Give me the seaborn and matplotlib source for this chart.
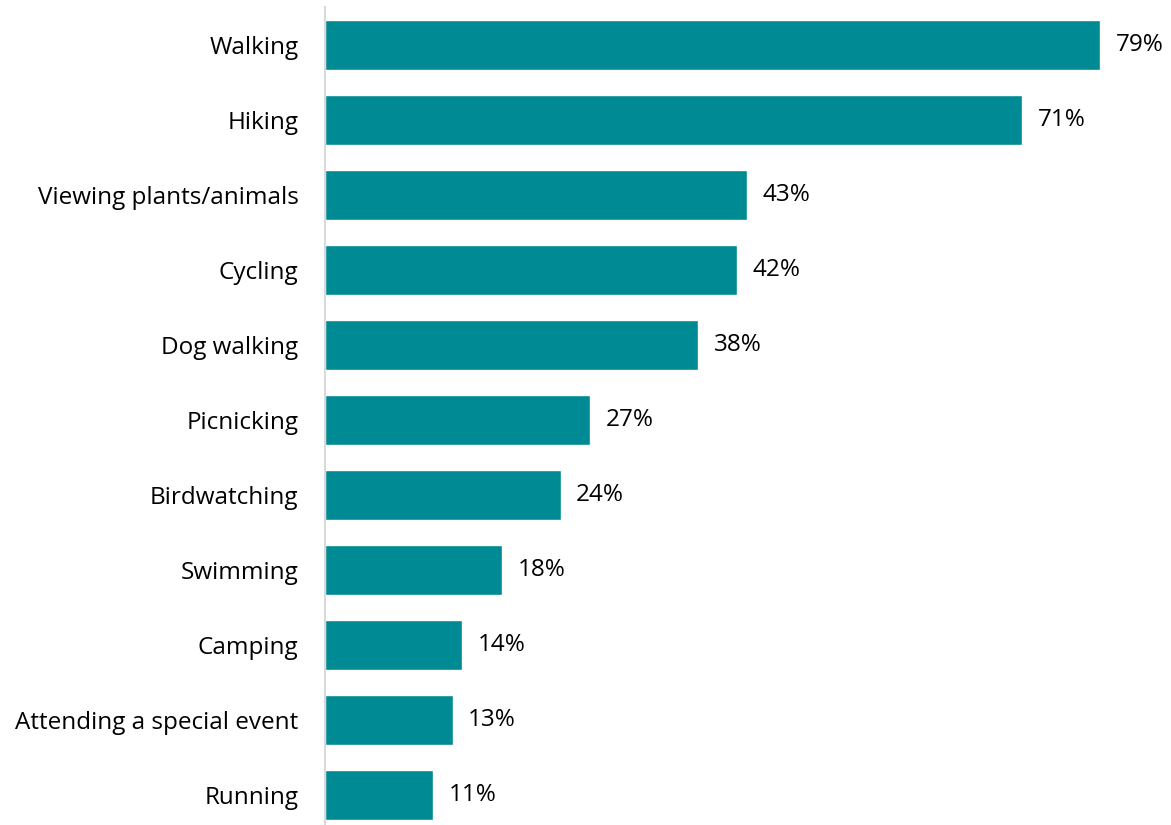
import seaborn as sns
import matplotlib.pyplot as plt
import pandas as pd

activities = ["Walking", "Hiking", "Viewing plants/animals", "Cycling", "Dog walking",
              "Picnicking", "Birdwatching", "Swimming", "Camping",
              "Attending a special event", "Running"]
shares = [79, 71, 43, 42, 38, 27, 24, 18, 14, 13, 11]

df = pd.DataFrame({"activity": activities, "share": shares})

sns.set_style("white")
plt.rcParams['font.family'] = ['Open Sans', 'DejaVu Sans']

fig = plt.figure(figsize=(11.71, 8.25), dpi=100)
ax = fig.add_axes([325 / 1171, -0.009, 1 - 325 / 1171, 1.0])

sns.barplot(data=df, x="share", y="activity", color="#008B94", width=0.667,
            saturation=1, ax=ax)

for i, v in enumerate(shares):
    ax.text(v + 1.6, i, f"{v}%", va="center", ha="left", fontsize=17.5, color="black")

ax.set_xlim(0, 86.2)
ax.set_ylim(10.5, -0.5)
ax.set_xlabel("")
ax.set_ylabel("")
ax.set_xticks([])
ax.tick_params(axis="y", length=0, pad=19, labelsize=17.5, labelcolor="black")
for side in ["top", "right", "bottom"]:
    ax.spines[side].set_visible(False)
ax.spines["left"].set_color("#D9D9D9")
ax.spines["left"].set_linewidth(1.5)

plt.savefig("out.png", dpi=100)
